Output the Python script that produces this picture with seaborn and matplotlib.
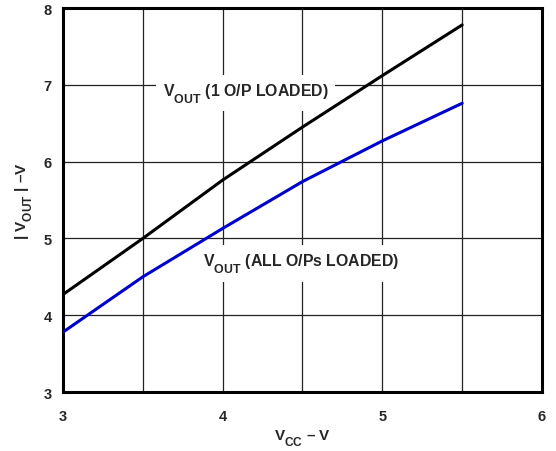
import matplotlib
matplotlib.use("Agg")
import matplotlib.pyplot as plt
import matplotlib._mathtext as _mt
import seaborn as sns
import pandas as pd
from matplotlib.ticker import MultipleLocator

vcc = [3.0, 3.5, 4.0, 4.5, 5.0, 5.5]
vout_one = [4.27, 5.00, 5.76, 6.45, 7.12, 7.78]
vout_all = [3.78, 4.50, 5.13, 5.74, 6.27, 6.76]
series_names = ["1 O/P LOADED", "ALL O/Ps LOADED"]
x_ticks = [3, 4, 5, 6]
y_ticks = [3, 4, 5, 6, 7, 8]

df = pd.DataFrame({
    "vcc": vcc * 2,
    "vout": vout_one + vout_all,
    "series": [series_names[0]] * len(vcc) + [series_names[1]] * len(vcc),
})

# larger, lower subscripts like the reference typesetting
_mt.SHRINK_FACTOR = 0.78
_mt.FontConstantsBase.sub1 = 0.85

sns.set_style("white")
plt.rcParams["font.family"] = ["Liberation Sans", "DejaVu Sans"]
plt.rcParams["font.weight"] = "bold"
plt.rcParams["mathtext.fontset"] = "custom"
plt.rcParams["mathtext.rm"] = "Liberation Sans:bold"
plt.rcParams["mathtext.it"] = "Liberation Sans:bold"
plt.rcParams["mathtext.bf"] = "Liberation Sans:bold"

fig = plt.figure(figsize=(5.56, 4.52), dpi=100)
ax = fig.add_axes([0.1133, 0.1305, 0.8615, 0.8495])

sns.lineplot(data=df, x="vcc", y="vout", hue="series",
             palette={series_names[0]: "#000000", series_names[1]: "#0000CC"},
             linewidth=2.2, legend=False, ax=ax, zorder=3)

ax.set_xlim(3, 6)
ax.set_ylim(3, 8)
ax.set_xticks(x_ticks)
ax.set_yticks(y_ticks)
ax.xaxis.set_minor_locator(MultipleLocator(0.5))
ax.set_axisbelow(True)
ax.grid(True, which="both", color="#222222", linewidth=0.9, zorder=1)
ax.tick_params(which="both", length=0)
ax.tick_params(axis="x", pad=12, labelsize=10.5)
ax.tick_params(axis="y", pad=8, labelsize=10.5)
for lab in ax.get_xticklabels() + ax.get_yticklabels():
    lab.set_fontweight("bold")
for sp in ax.spines.values():
    sp.set_linewidth(2.2)
    sp.set_color("black")
    sp.set_visible(True)

ax.set_xlabel(r"V$_{\rm CC}$ – V", fontsize=11, fontweight="bold", labelpad=3)
ax.set_ylabel(r"| V$_{\rm OUT}$ | –V", fontsize=11, fontweight="bold", labelpad=6)

box = dict(boxstyle="square,pad=0.4", facecolor="white", edgecolor="none")
ax.text(3.625, 6.867, r"V$_{\rm OUT}$ (1 O/P LOADED)", fontsize=11.4,
        fontweight="bold", va="baseline", ha="left", bbox=box, zorder=2)
ax.text(3.877, 4.645, r"V$_{\rm OUT}$ (ALL O/Ps LOADED)", fontsize=11.4,
        fontweight="bold", va="baseline", ha="left", bbox=box, zorder=2)

fig.savefig("out.png", dpi=100)
